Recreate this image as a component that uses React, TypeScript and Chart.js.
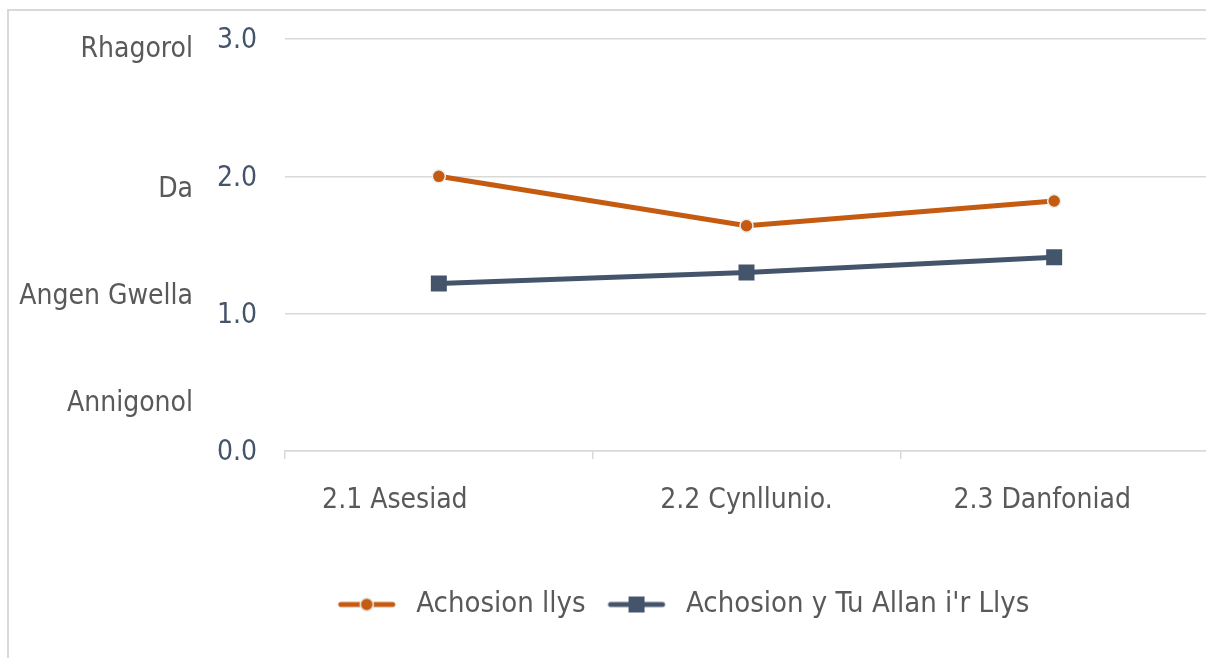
import React, { useEffect, useRef } from 'react';
import { Chart, registerables } from 'chart.js';

Chart.register(...registerables);

// ---- data ----
const categories = ['2.1 Asesiad           ', '2.2 Cynllunio.', '2.3 Danfoniad   '];
const seriesNames = ['Achosion llys', "Achosion y Tu Allan i'r Llys"];
const achosionLlys = [2.0, 1.64, 1.82];
const achosionTuAllan = [1.22, 1.3, 1.41];
const yTickValues = [0, 1, 2, 3];
const bandLabels = ['Annigonol', 'Angen Gwella', 'Da', 'Rhagorol'];
const bandLabelValues = [0.36, 1.14, 1.92, 2.94];

const ORANGE = '#C55A11';
const SLATE = '#44546A';
const GREY_TEXT = '#595959';
const GRID = '#d9d9d9';
const FONT = '"DejaVu Sans Condensed", "Liberation Sans", Arial, sans-serif';
const FS = 28;
const LEGEND_FS = 29;

function legendIcon(kind: 'circle' | 'rect', color: string): HTMLCanvasElement {
  const c = document.createElement('canvas');
  c.width = 76;
  c.height = 20;
  const g = c.getContext('2d')!;
  g.strokeStyle = color;
  g.lineWidth = 5;
  g.lineCap = 'round';
  g.beginPath();
  g.moveTo(15, 10);
  g.lineTo(67, 10);
  g.stroke();
  if (kind === 'circle') {
    g.beginPath();
    g.arc(41, 10, 6.5, 0, Math.PI * 2);
    g.fillStyle = color;
    g.fill();
    g.lineWidth = 1.5;
    g.strokeStyle = '#eeeeee';
    g.stroke();
  } else {
    g.fillStyle = color;
    g.fillRect(33, 2, 16, 16);
  }
  return c;
}

const bandLabelPlugin = {
  id: 'bandLabels',
  afterDraw(chart: any) {
    const ctx = chart.ctx;
    const y = chart.scales.y;
    ctx.save();
    ctx.font = `${FS}px ${FONT}`;
    ctx.fillStyle = GREY_TEXT;
    ctx.textAlign = 'right';
    ctx.textBaseline = 'middle';
    bandLabels.forEach((t, i) => {
      ctx.fillText(t, 185, y.getPixelForValue(bandLabelValues[i]) + 2);
    });
    ctx.restore();
  },
};

export default function App() {
  const ref = useRef<HTMLCanvasElement>(null);
  useEffect(() => {
    if (!ref.current) return;
    const icons = [legendIcon('circle', ORANGE), legendIcon('rect', SLATE)];
    const chart = new Chart(ref.current, {
      type: 'line',
      data: {
        labels: categories,
        datasets: [
          {
            label: seriesNames[0],
            data: achosionLlys,
            borderColor: ORANGE,
            backgroundColor: ORANGE,
            borderWidth: 5,
            pointStyle: 'circle',
            pointRadius: 6.5,
            pointBorderColor: '#eeeeee',
            pointBorderWidth: 1.5,
            pointBackgroundColor: ORANGE,
            tension: 0,
          },
          {
            label: seriesNames[1],
            data: achosionTuAllan,
            borderColor: SLATE,
            backgroundColor: SLATE,
            borderWidth: 5,
            pointStyle: 'rect',
            pointRadius: 11.3,
            pointBorderColor: SLATE,
            pointBorderWidth: 0,
            pointBackgroundColor: SLATE,
            tension: 0,
          },
        ],
      },
      options: {
        responsive: false,
        animation: false,
        layout: { padding: { left: 0, right: 0, top: 31, bottom: 29 } },
        scales: {
          x: {
            type: 'category',
            offset: true,
            grid: {
              display: true,
              drawOnChartArea: false,
              drawTicks: true,
              tickLength: 8,
              color: GRID,
              lineWidth: 1.5,
              offset: true,
            },
            border: { display: true, color: GRID, width: 1.5 },
            ticks: {
              color: GREY_TEXT,
              font: { family: FONT, size: FS },
              padding: 25,
              maxRotation: 0,
              autoSkip: false,
            },
            afterFit: (s: any) => {
              s.height = 129;
              s.paddingLeft = 0;
              s.paddingRight = 0;
            },
          },
          y: {
            min: 0,
            max: 3,
            afterBuildTicks: (s: any) => {
              s.ticks = yTickValues.map((v) => ({ value: v }));
            },
            grid: { color: GRID, lineWidth: 1.5, drawTicks: false },
            border: { display: false },
            ticks: {
              color: SLATE,
              font: { family: FONT, size: FS },
              padding: 28,
              labelOffset: 2,
              callback: (v: any) => Number(v).toFixed(1),
            },
            afterFit: (s: any) => {
              s.width = 277;
              s.paddingTop = 0;
              s.paddingBottom = 0;
            },
          },
          spacer: {
            type: 'linear',
            position: 'right',
            display: true,
            grid: { display: false, drawTicks: false },
            border: { display: false },
            ticks: { display: false },
            afterFit: (s: any) => {
              s.width = 139;
              s.paddingTop = 0;
              s.paddingBottom = 0;
            },
          },
        },
        plugins: {
          legend: {
            position: 'bottom',
            labels: {
              usePointStyle: true,
              pointStyleWidth: 76,
              padding: 10,
              color: GREY_TEXT,
              font: { family: FONT, size: LEGEND_FS },
              generateLabels: (c: any) =>
                c.data.datasets.map((d: any, i: number) => ({
                  text: d.label,
                  pointStyle: icons[i],
                  fillStyle: 'transparent',
                  strokeStyle: 'transparent',
                  lineWidth: 0,
                  hidden: false,
                  datasetIndex: i,
                  fontColor: GREY_TEXT,
                })),
            },
          },
          tooltip: { enabled: false },
        },
      },
      plugins: [bandLabelPlugin],
    });
    return () => chart.destroy();
  }, []);

  return (
    <div
      style={{
        position: 'fixed',
        left: 0,
        top: 0,
        width: 1206,
        height: 658,
        overflow: 'hidden',
        background: '#ffffff',
      }}
    >
      <div
        style={{
          position: 'absolute',
          left: 7,
          top: 9,
          width: 1400,
          height: 800,
          border: '2px solid #d9d9d9',
          boxSizing: 'border-box',
        }}
      />
      <canvas
        ref={ref}
        width={1339}
        height={650}
        style={{ position: 'absolute', left: 8, top: 8, width: 1339, height: 650 }}
      />
    </div>
  );
}
